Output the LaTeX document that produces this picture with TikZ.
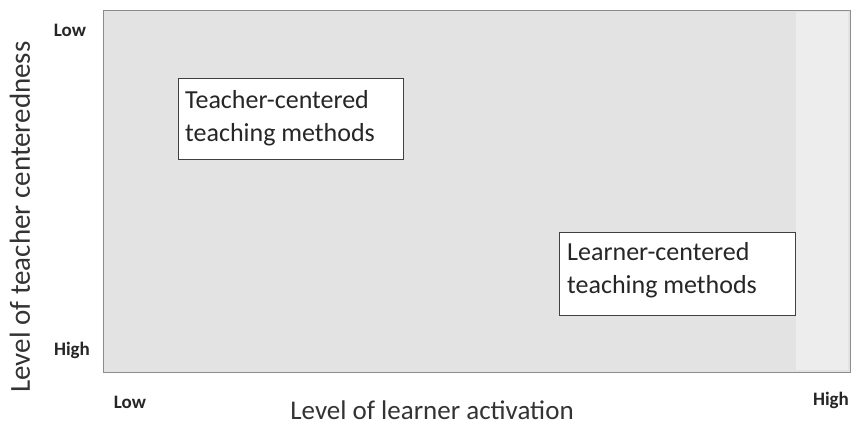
\documentclass[tikz,border=0pt]{standalone}
\usepackage{fontspec}
\setmainfont{Carlito}
\begin{document}
\begin{tikzpicture}[x=1pt,y=-1pt,
  methodbox/.style={draw=black!75,fill=white,line width=0.8pt,inner sep=0pt,anchor=north west},
  methodtext/.style={anchor=west,align=left,inner sep=0pt,font=\fontsize{26}{33}\selectfont,text=black!85},
  ticklab/.style={font=\bfseries\fontsize{19}{22}\selectfont,text=black!85},
  axislab/.style={font=\fontsize{27}{32}\selectfont,text=black!80}]
\useasboundingbox (0,0) rectangle (857,426);
\fill[white] (0,0) rectangle (857,426);
\node[draw=black!45,fill=black!11,line width=1pt,minimum width=747pt,minimum height=362pt,inner sep=0pt,anchor=north west] (plane) at (103,10) {};
\fill[black!7] (796,12) rectangle (848,370);
\node[methodbox,minimum width=225pt,minimum height=81pt] (tbox) at (178,78) {};
\node[methodtext] (ttext) at (185,118) {Teacher-centered\\teaching methods};
\node[methodbox,minimum width=236pt,minimum height=83pt] (lbox) at (559,232) {};
\node[methodtext] (ltext) at (567,270) {Learner-centered\\teaching methods};
\node[ticklab] (ylow) at (70,30) {Low};
\node[ticklab] (yhigh) at (72,350) {High};
\node[ticklab] (xlow) at (130,402) {Low};
\node[ticklab] (xhigh) at (831,400) {High};
\node[axislab] (xlab) at (432,410) {Level of learner activation};
\node[axislab,rotate=90,font=\fontsize{29}{34}\selectfont] (ylab) at (20,217) {Level of teacher centeredness};
\end{tikzpicture}
\end{document}
